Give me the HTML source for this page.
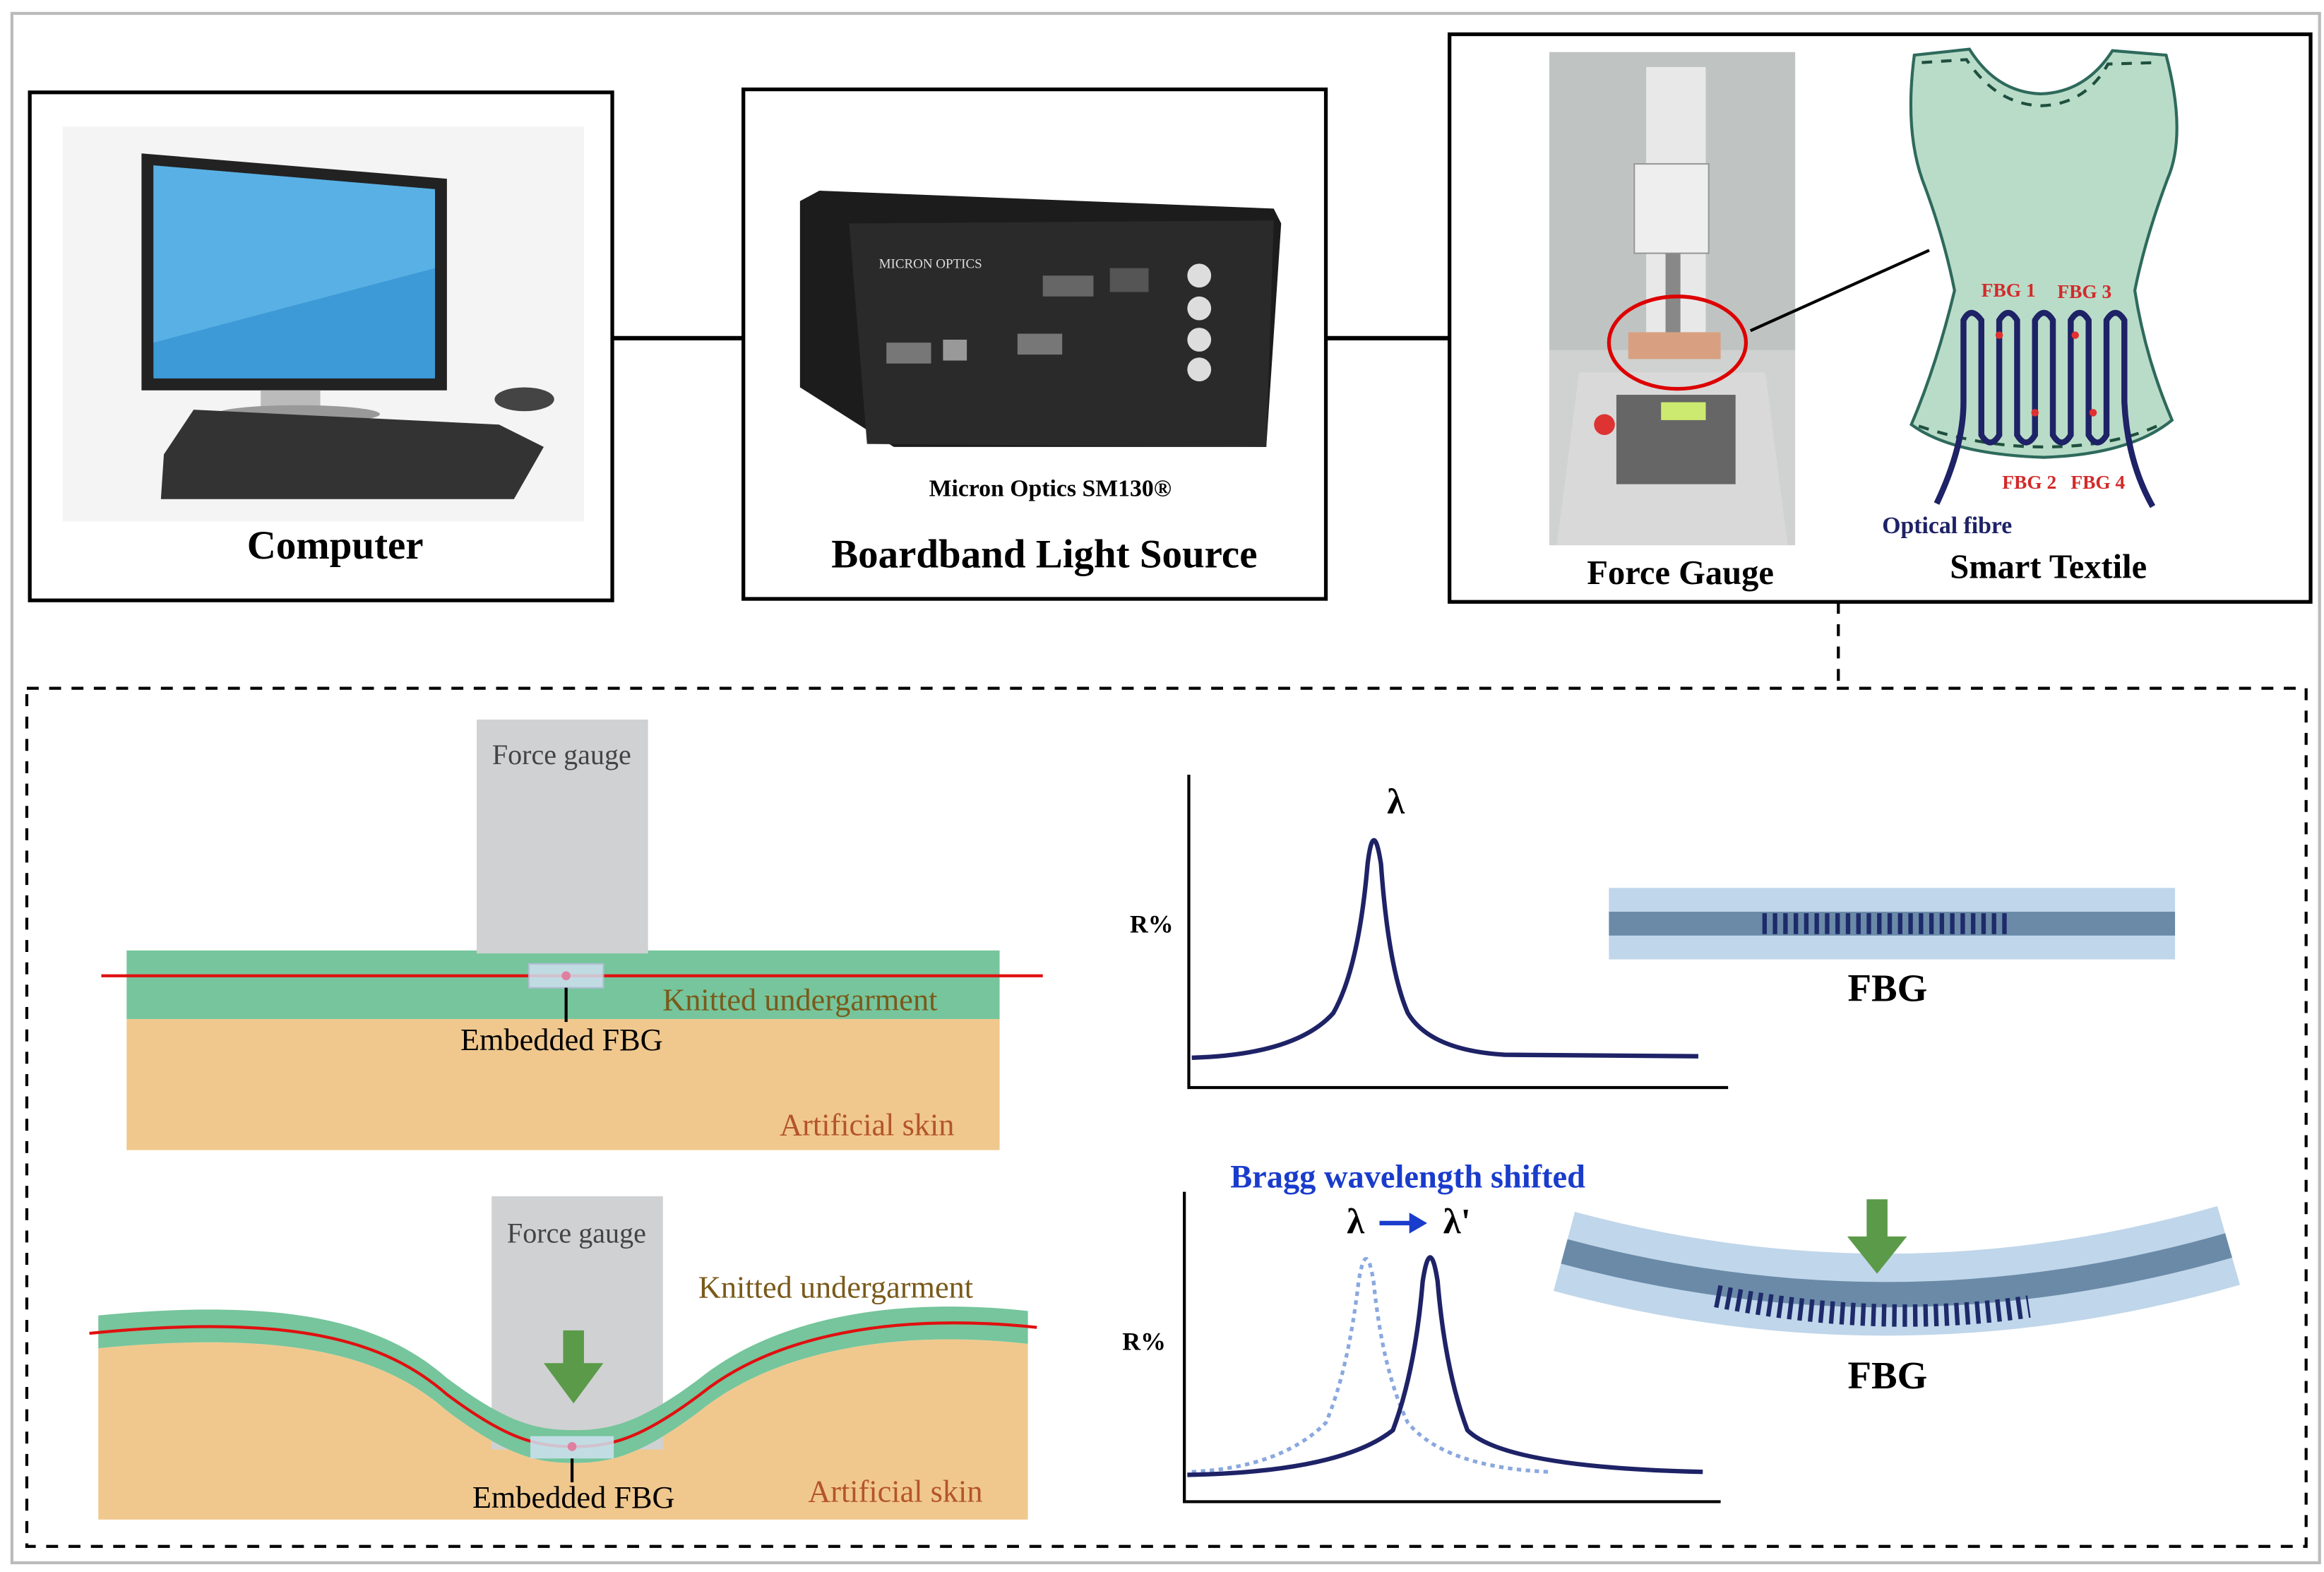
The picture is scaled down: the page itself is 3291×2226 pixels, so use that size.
<!DOCTYPE html>
<html><head><meta charset="utf-8"><style>
html,body{margin:0;padding:0;background:#fff}
svg{display:block}
text{font-family:"Liberation Serif",serif}
</style></head><body>
<svg width="3291" height="2226" viewBox="0 0 1560 1055.2" preserveAspectRatio="none" xmlns="http://www.w3.org/2000/svg">
<rect x="0" y="0" width="1560" height="1056" fill="#fff"/>
<rect x="8" y="9" width="1549" height="1040" fill="none" stroke="#bbb" stroke-width="2"/>
<rect x="20" y="62" width="391" height="341" fill="#fff" stroke="#000" stroke-width="2.5"/>
<rect x="499" y="60" width="391" height="342" fill="#fff" stroke="#000" stroke-width="2.5"/>
<rect x="973" y="23" width="578" height="381" fill="#fff" stroke="#000" stroke-width="2.5"/>
<line x1="411" y1="227" x2="499" y2="227" stroke="#000" stroke-width="3"/>
<line x1="890" y1="227" x2="973" y2="227" stroke="#000" stroke-width="3"/>
<line x1="1234" y1="404" x2="1234" y2="462" stroke="#000" stroke-width="2" stroke-dasharray="8,7"/>
<rect x="18" y="462" width="1530" height="576" fill="none" stroke="#000" stroke-width="2" stroke-dasharray="8,7"/>

<rect x="42" y="85" width="350" height="265" fill="#f4f4f4"/>
<polygon points="95,103 300,120 300,262 95,262" fill="#222"/>
<polygon points="103,111 292,127 292,254 103,254" fill="#3d9ad6"/>
<polygon points="103,111 292,127 292,180 103,230" fill="#6cc0ee" opacity="0.6"/>
<rect x="175" y="262" width="40" height="12" fill="#bbb"/>
<ellipse cx="200" cy="278" rx="55" ry="6" fill="#999"/>
<polygon points="130,275 335,285 365,300 345,335 108,335 110,305" fill="#333"/>
<ellipse cx="352" cy="268" rx="20" ry="8" fill="#444"/>
<text x="225" y="375" font-size="27" font-weight="bold" text-anchor="middle">Computer</text>

<polygon points="537,135 550,128 855,140 860,150 850,300 600,300 537,260" fill="#1c1c1c"/>
<polygon points="570,150 855,148 850,300 582,298" fill="#2a2a2a"/>
<circle cx="805" cy="185" r="8" fill="#ddd"/><circle cx="805" cy="207" r="8" fill="#ddd"/><circle cx="805" cy="228" r="8" fill="#ddd"/><circle cx="805" cy="248" r="8" fill="#ddd"/>
<rect x="595" y="230" width="30" height="14" fill="#777"/><rect x="633" y="228" width="16" height="14" fill="#999"/>
<rect x="683" y="224" width="30" height="14" fill="#777"/><rect x="700" y="185" width="34" height="14" fill="#666"/><rect x="745" y="180" width="26" height="16" fill="#555"/>
<text x="590" y="180" font-size="9" fill="#ddd" font-family="Liberation Sans">MICRON OPTICS</text>
<text x="705" y="333" font-size="16" font-weight="bold" text-anchor="middle">Micron Optics SM130®</text>
<text x="701" y="381" font-size="27" font-weight="bold" text-anchor="middle">Boardband Light Source</text>

<rect x="1040" y="35" width="165" height="331" fill="#cfd2d0"/>
<rect x="1040" y="35" width="165" height="200" fill="#bfc4c2"/>
<rect x="1105" y="45" width="40" height="190" fill="#e8e8e8"/>
<rect x="1097" y="110" width="50" height="60" fill="#eee" stroke="#999"/>
<rect x="1118" y="170" width="10" height="55" fill="#888"/>
<rect x="1093" y="223" width="62" height="18" fill="#d8a080"/>
<polygon points="1060,250 1185,250 1200,366 1045,366" fill="#d9d9d9"/>
<rect x="1085" y="265" width="80" height="60" fill="#666"/>
<rect x="1115" y="270" width="30" height="12" fill="#cdea70"/>
<circle cx="1077" cy="285" r="7" fill="#d33"/>
<ellipse cx="1126" cy="230" rx="46" ry="31" fill="none" stroke="#d00" stroke-width="2.5"/>
<line x1="1175" y1="222" x2="1295" y2="168" stroke="#000" stroke-width="2"/>
<text x="1128" y="392" font-size="23" font-weight="bold" text-anchor="middle">Force Gauge</text>

<path d="M1285,37 L1322,33 Q1340,62 1370,63 Q1400,62 1418,34 L1454,37 Q1468,90 1455,120 Q1440,160 1433,195 Q1440,240 1458,282 Q1430,305 1372,307 Q1310,305 1283,285 Q1300,245 1312,195 Q1305,160 1292,125 Q1278,90 1285,37 Z" fill="#b9dcc8" stroke="#2e6a5c" stroke-width="2"/>
<path d="M1290,42 L1320,40 Q1340,70 1370,71 Q1400,70 1415,43 L1448,42" fill="none" stroke="#1f4f3e" stroke-width="2" stroke-dasharray="7,6"/>
<path d="M1288,286 Q1330,300 1372,300 Q1420,300 1452,284" fill="none" stroke="#1f4f3e" stroke-width="2" stroke-dasharray="7,6"/>
<path d="M1300,338 Q1318,300 1318,270 L1318,215 Q1323,205 1330,215 L1330,292 Q1336,302 1342,292 L1342,215 Q1348,205 1354,215 L1354,292 Q1360,302 1366,292 L1366,215 Q1372,205 1378,215 L1378,292 Q1384,302 1390,292 L1390,215 Q1396,205 1402,215 L1402,292 Q1408,302 1414,292 L1414,215 Q1420,205 1426,215 L1426,270 Q1428,310 1445,340" fill="none" stroke="#1e2266" stroke-width="4"/>
<g fill="#e03030"><circle cx="1342" cy="225" r="2.5"/><circle cx="1393" cy="225" r="2.5"/><circle cx="1366" cy="277" r="2.5"/><circle cx="1405" cy="277" r="2.5"/></g>
<g font-size="13" font-weight="bold" fill="#d32a2a"><text x="1330" y="199">FBG 1</text><text x="1381" y="200">FBG 3</text><text x="1344" y="328">FBG 2</text><text x="1390" y="328">FBG 4</text></g>
<text x="1307" y="358" font-size="16" font-weight="bold" fill="#1e2266" text-anchor="middle">Optical fibre</text>
<text x="1375" y="388" font-size="23" font-weight="bold" text-anchor="middle">Smart Textile</text>

<rect x="85" y="684" width="586" height="88" fill="#f0c88e"/>
<rect x="85" y="638" width="586" height="46" fill="#76c59c"/>
<rect x="320" y="483" width="115" height="157" fill="#d0d1d3"/>
<text x="377" y="513" font-size="19" fill="#444" text-anchor="middle">Force gauge</text>
<line x1="68" y1="655" x2="700" y2="655" stroke="#e01010" stroke-width="2"/>
<rect x="355" y="647" width="50" height="16" fill="#cfe0f0" opacity="0.85" stroke="#bbd"/>
<circle cx="380" cy="655" r="3" fill="#e080a0"/>
<line x1="380" y1="663" x2="380" y2="686" stroke="#000" stroke-width="2"/>
<text x="377" y="705" font-size="21" text-anchor="middle">Embedded FBG</text>
<text x="537" y="678" font-size="21" fill="#7a5a1a" text-anchor="middle">Knitted undergarment</text>
<text x="582" y="762" font-size="21" fill="#b4542a" text-anchor="middle">Artificial skin</text>

<path d="M66,905 C200,892 260,912 300,947 C340,977 360,982 385,982 C410,982 430,977 470,947 C520,907 600,892 690,902 L690,1020 L66,1020 Z" fill="#f0c88e"/>
<rect x="330" y="803" width="115" height="170" fill="#d0d1d3"/>
<text x="387" y="834" font-size="19" fill="#444" text-anchor="middle">Force gauge</text>
<path d="M66,883 C200,870 260,890 300,925 C340,955 360,960 385,960 C410,960 430,955 470,925 C520,885 600,870 690,880 L690,902 C600,892 520,907 470,947 C430,977 410,982 385,982 C360,982 340,977 300,947 C260,912 200,892 66,905 Z" fill="#76c59c"/>
<path d="M60,895 C200,881 260,901 300,936 C340,966 360,971 385,971 C410,971 430,966 470,936 C520,896 600,881 696,891" fill="none" stroke="#e01010" stroke-width="2"/>
<rect x="356" y="964" width="56" height="15" fill="#cfe0f0" opacity="0.85"/>
<circle cx="384" cy="971" r="3" fill="#e080a0"/>
<line x1="384" y1="979" x2="384" y2="995" stroke="#000" stroke-width="2"/>
<polygon points="378,893 392,893 392,915 405,915 385,942 365,915 378,915" fill="#5a9a48"/>
<text x="385" y="1012" font-size="21" text-anchor="middle">Embedded FBG</text>
<text x="561" y="871" font-size="21" fill="#7a5a1a" text-anchor="middle">Knitted undergarment</text>
<text x="601" y="1008" font-size="21" fill="#b4542a" text-anchor="middle">Artificial skin</text>

<polyline points="798,520 798,730 1160,730" fill="none" stroke="#000" stroke-width="2"/>
<path d="M800,710 Q870,708 895,680 Q912,650 918,580 Q922,548 927,580 Q932,650 945,680 Q960,705 1010,708 L1140,709" fill="none" stroke="#1e2266" stroke-width="3"/>
<text x="937" y="546" font-size="24" font-weight="bold" text-anchor="middle">λ</text>
<text x="773" y="626" font-size="17" font-weight="bold" text-anchor="middle">R%</text>
<rect x="1080" y="596" width="380" height="48" fill="#c0d6ea"/>
<rect x="1080" y="612" width="380" height="16" fill="#6a8aa8"/>
<line x1="1183" y1="620" x2="1348" y2="620" stroke="#1e2a6a" stroke-width="14" stroke-dasharray="3,4"/>
<text x="1267" y="672" font-size="26" font-weight="bold" text-anchor="middle">FBG</text>

<polyline points="795,800 795,1008 1155,1008" fill="none" stroke="#000" stroke-width="2"/>
<path d="M800,988 Q860,985 890,955 Q905,920 912,860 Q917,830 922,860 Q928,920 945,955 Q970,985 1040,988" fill="none" stroke="#8aa8e0" stroke-width="2.5" stroke-dasharray="3,3"/>
<path d="M797,990 Q900,988 935,960 Q950,920 955,860 Q960,828 965,860 Q970,920 985,960 Q1010,985 1143,988" fill="none" stroke="#1e2266" stroke-width="3"/>
<text x="945" y="797" font-size="22" font-weight="bold" fill="#1a3ccc" text-anchor="middle">Bragg wavelength shifted</text>
<text x="910" y="828" font-size="24" font-weight="bold" text-anchor="middle">λ</text>
<line x1="926" y1="821" x2="948" y2="821" stroke="#1a3ccc" stroke-width="3"/>
<polygon points="946,814 958,821 946,828" fill="#1a3ccc"/>
<text x="978" y="828" font-size="24" font-weight="bold" text-anchor="middle">λ'</text>
<text x="768" y="906" font-size="17" font-weight="bold" text-anchor="middle">R%</text>
<path d="M1050,840 Q1273,900 1496,836" fill="none" stroke="#c0d6ea" stroke-width="55"/>
<path d="M1050,840 Q1273,900 1496,836" fill="none" stroke="#6a8aa8" stroke-width="17"/>
<path d="M1152,870 Q1262,892 1362,877" fill="none" stroke="#1e2a6a" stroke-width="15" stroke-dasharray="3,4"/>
<polygon points="1253,805 1267,805 1267,830 1280,830 1260,855 1240,830 1253,830" fill="#5a9a48"/>
<text x="1267" y="932" font-size="26" font-weight="bold" text-anchor="middle">FBG</text>
</svg>
</body></html>
